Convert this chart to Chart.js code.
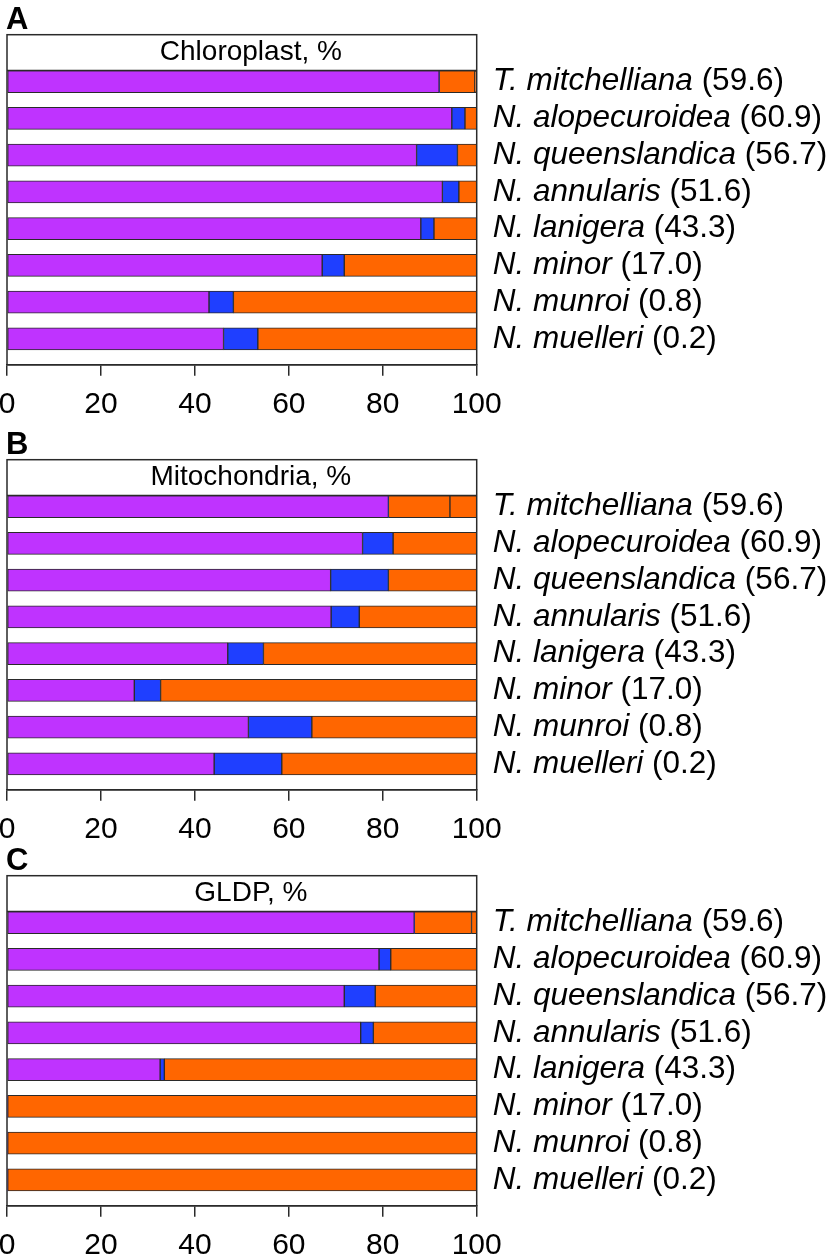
<!DOCTYPE html>
<html>
<head>
<meta charset="utf-8">
<script src="https://cdn.jsdelivr.net/npm/chart.js@4"></script>
<style>
  html, body { margin: 0; padding: 0; background: #fff; overflow: hidden; }
  body { width: 826px; height: 1256px; position: relative; }
  canvas { position: absolute; left: -2px; }
</style>
</head>
<body>
<canvas id="panelA" width="830" height="440" style="top:0px"></canvas>
<canvas id="panelB" width="830" height="440" style="top:424.6px"></canvas>
<canvas id="panelC" width="830" height="440" style="top:841.3px"></canvas>
<script>
const speciesNames = ['T. mitchelliana', 'N. alopecuroidea', 'N. queenslandica', 'N. annularis',
  'N. lanigera', 'N. minor', 'N. munroi', 'N. muelleri'];
const speciesScores = ['(59.6)', '(60.9)', '(56.7)', '(51.6)', '(43.3)', '(17.0)', '(0.8)', '(0.2)'];
const xTicks = [0, 20, 40, 60, 80, 100];

// panel A - chloroplast
const chloroPurple = [92.0, 94.7, 87.2, 92.7, 88.1, 67.1, 43.0, 46.1];
const chloroBlue = [0, 2.8, 8.7, 3.5, 2.8, 4.7, 5.2, 7.3];
const chloroOrange = [7.6, 2.5, 4.1, 3.8, 9.1, 28.2, 51.8, 46.6];
const chloroExtra = [0.4, 0, 0, 0, 0, 0, 0, 0];

// panel B - mitochondria
const mitoPurple = [81.2, 75.7, 68.9, 69.0, 47.0, 27.1, 51.4, 44.1];
const mitoBlue = [0, 6.5, 12.3, 6.0, 7.6, 5.6, 13.5, 14.4];
const mitoOrange = [13.1, 17.8, 18.8, 25.0, 45.4, 67.3, 35.1, 41.5];
const mitoExtra = [5.7, 0, 0, 0, 0, 0, 0, 0];

// panel C - GLDP
const gldpPurple = [86.7, 79.2, 71.8, 75.3, 32.6, 0, 0, 0];
const gldpBlue = [0, 2.5, 6.6, 2.7, 0.9, 0, 0, 0];
const gldpOrange = [12.2, 18.3, 21.6, 22.0, 66.5, 100, 100, 100];
const gldpExtra = [1.1, 0, 0, 0, 0, 0, 0, 0];

const PURPLE = '#BF33FF';
const BLUE = '#1F3FFF';
const ORANGE = '#FF6600';
const EDGE = '#2a2a2a';
const FONT = '"Liberation Sans", Arial, Helvetica, sans-serif';

const toPoints = (arr) => arr.map((v, i) => ({ x: v, y: i }));

const panelDecor = {
  id: 'panelDecor',
  afterDraw(chart, args, opts) {
    const { ctx, chartArea: a } = chart;
    const y = chart.scales.y;
    ctx.save();
    // frame + title row line
    ctx.strokeStyle = EDGE;
    ctx.lineWidth = 1.5;
    ctx.strokeRect(a.left, a.top, a.right - a.left, a.bottom - a.top);
    const lineY = y.getPixelForValue(-0.3);
    ctx.beginPath();
    ctx.moveTo(a.left, lineY);
    ctx.lineTo(a.right, lineY);
    ctx.stroke();

    ctx.fillStyle = '#000';
    // panel letter
    ctx.font = 'bold 31px ' + FONT;
    ctx.textAlign = 'left';
    ctx.textBaseline = 'alphabetic';
    ctx.fillText(opts.letter, a.left - 1, a.top - 6);

    // title in header row
    ctx.font = '28px ' + FONT;
    ctx.textAlign = 'center';
    ctx.textBaseline = 'middle';
    ctx.fillText(opts.title, (a.left + a.right) / 2 + 9, y.getPixelForValue(-0.8));

    // species labels
    ctx.textAlign = 'left';
    speciesNames.forEach((name, i) => {
      const py = y.getPixelForValue(i);
      let px = a.right + 16;
      ctx.font = 'italic 31.5px ' + FONT;
      ctx.fillText(name, px, py);
      px += ctx.measureText(name + ' ').width;
      ctx.font = '31.5px ' + FONT;
      ctx.fillText(speciesScores[i], px, py);
    });
    ctx.restore();
  }
};

function makePanel(id, letter, title, purple, blue, orange, extra) {
  const seg = (data, color) => ({
    data: toPoints(data),
    backgroundColor: color,
    borderColor: EDGE,
    borderWidth: (c) => (c.raw && c.raw.x > 0 ? 1 : 0),
    borderSkipped: false,
    barThickness: 22
  });
  return new Chart(document.getElementById(id), {
    type: 'bar',
    data: {
      datasets: [seg(purple, PURPLE), seg(blue, BLUE), seg(orange, ORANGE), seg(extra, ORANGE)]
    },
    options: {
      indexAxis: 'y',
      responsive: false,
      animation: false,
      layout: { padding: { top: 34.7, left: 9, right: 351.3, bottom: 6.3 } },
      plugins: {
        legend: { display: false },
        tooltip: { enabled: false },
        panelDecor: { letter, title }
      },
      scales: {
        x: {
          stacked: true,
          min: 0,
          max: 100,
          afterBuildTicks: (s) => { s.ticks = xTicks.map((v) => ({ value: v })); },
          grid: { drawOnChartArea: false, drawTicks: true, tickLength: 11, color: EDGE, lineWidth: 1.5 },
          border: { display: true, color: EDGE, width: 1.5 },
          ticks: { color: '#000', padding: 0, maxRotation: 0, font: { family: FONT, size: 30, lineHeight: 1.93 } }
        },
        y: {
          type: 'linear',
          stacked: true,
          reverse: true,
          offset: false,
          min: -1.275,
          max: 7.706,
          display: false
        }
      }
    },
    plugins: [panelDecor]
  });
}

makePanel('panelA', 'A', 'Chloroplast, %', chloroPurple, chloroBlue, chloroOrange, chloroExtra);
makePanel('panelB', 'B', 'Mitochondria, %', mitoPurple, mitoBlue, mitoOrange, mitoExtra);
makePanel('panelC', 'C', 'GLDP, %', gldpPurple, gldpBlue, gldpOrange, gldpExtra);
</script>
</body>
</html>
